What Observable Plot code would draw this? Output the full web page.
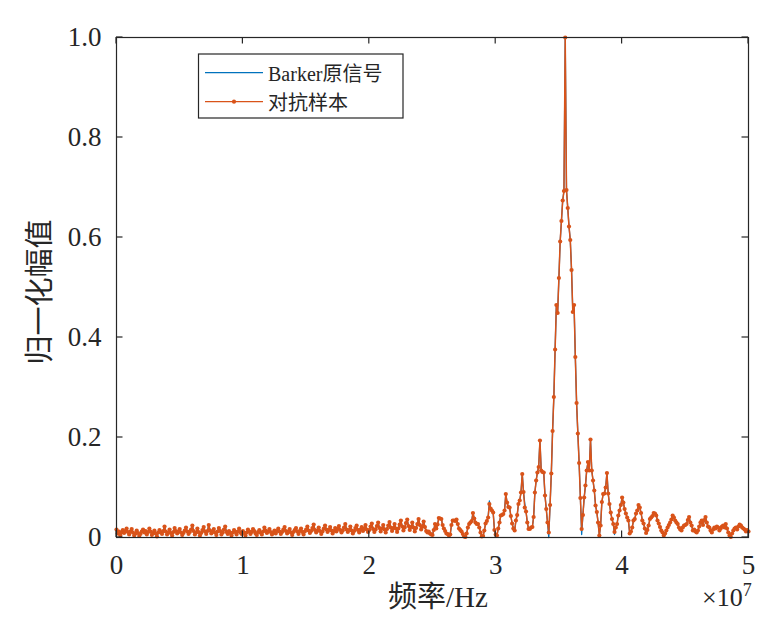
<!DOCTYPE html>
<html><head><meta charset="utf-8">
<script src="https://cdn.jsdelivr.net/npm/d3@7"></script>
<script src="https://cdn.jsdelivr.net/npm/@observablehq/plot@0.6"></script>
<style>body{margin:0;background:#fff} svg{display:block}</style>
</head><body><div id="chart"></div>
<script>
// ---- data, frequency grid step 1e5 Hz, 501 samples ----
const noise0 = [0.016,0.008,0.012,0.004,0.010,0.015,0.009,0.013,0.018,0.011,
0.006,0.012,0.017,0.010,0.004,0.008,0.014,0.009,0.003,0.007,
0.012,0.016,0.010,0.013,0.006,0.011,0.018,0.012,0.005,0.009,
0.014,0.008,0.002,0.010,0.015,0.011,0.007,0.013,0.022,0.012,
0.006,0.010,0.016,0.009,0.004,0.011,0.019,0.013,0.008,0.012];
const noise1 = [0.017,0.010,0.005,0.009,0.014,0.020,0.012,0.007,0.011,0.016,
0.024,0.013,0.006,0.010,0.018,0.011,0.004,0.009,0.015,0.021,
0.012,0.007,0.013,0.025,0.014,0.008,0.011,0.017,0.010,0.005,
0.012,0.019,0.013,0.006,0.010,0.016,0.022,0.011,0.007,0.013,
0.009,0.004,0.010,0.015,0.011,0.006,0.012,0.018,0.010,0.007];
const noise2 = [0.013,0.009,0.004,0.010,0.016,0.012,0.007,0.011,0.017,0.013,
0.008,0.005,0.011,0.015,0.010,0.006,0.012,0.020,0.014,0.009,
0.012,0.017,0.011,0.006,0.010,0.014,0.008,0.013,0.018,0.012,
0.007,0.011,0.016,0.021,0.013,0.008,0.012,0.017,0.010,0.005,
0.011,0.015,0.019,0.012,0.007,0.013,0.018,0.011,0.006,0.012];
const noise3 = [0.016,0.022,0.014,0.009,0.013,0.019,0.026,0.015,0.010,0.014,
0.020,0.013,0.007,0.012,0.018,0.024,0.016,0.011,0.015,0.021,
0.014,0.008,0.013,0.019,0.012,0.017,0.023,0.015,0.010,0.014,
0.020,0.027,0.016,0.011,0.015,0.022,0.014,0.008,0.013,0.019,
0.024,0.015,0.010,0.016,0.021,0.013,0.018,0.025,0.016,0.011];
const noise4 = [0.015,0.022,0.028,0.017,0.011,0.016,0.023,0.030,0.019,0.012,
0.018,0.025,0.016,0.010,0.017,0.024,0.031,0.020,0.013,0.019,
0.027,0.018,0.011,0.018,0.026,0.034,0.022,0.014,0.020,0.029,
0.036,0.023,0.015,0.021,0.030,0.020,0.012,0.019,0.027,0.037,
0.025,0.016,0.022,0.032,0.021,0.013,0.010,0.012];
const sideLeft = [0.008,0.006,0.005,0.015,0.027,0.018,0.026,0.039,0.038,0.037,0.025,0.018,0.013,0.008,
0.007,0.004,0.006,0.025,0.034,0.034,0.033,0.036,0.027,0.018,0.015,0.012,
0.007,0.002,0.001,0.008,0.020,0.027,0.030,0.033,0.049,0.038,0.030,0.027,0.027,0.020,
0.010,0.002,0.003,0.014,0.028,0.033,0.040,0.067,0.058,0.054,0.050,0.015,
0.006,0.004,0.018,0.030,0.044,0.045,0.047,0.054,0.087,0.070,0.061,0.060,0.043,0.028,0.018,0.014,
0.034,0.045,0.067,0.074,0.090,0.127,0.091,0.060,0.052,0.030,0.017,0.017,
0.020,0.021,0.041,0.090,0.114,0.130,0.141,0.194,0.134,0.131,0.130,0.084,0.057,0.030];
const mainLobe = [0.010,0.065,0.128,0.213,0.281,0.376,0.465,0.449,0.519,0.592,0.633,0.674,0.693,
1.000,
0.695,0.659,0.622,0.595,0.535,0.451,0.465,0.361,0.269,0.208,0.149,0.079,0.017];
const sideRight = [0.045,0.080,0.104,0.134,0.151,0.134,0.196,0.134,0.114,0.094,0.064,0.051,0.030,0.004,
0.024,0.071,0.087,0.088,0.100,0.129,0.088,0.067,0.050,0.037,0.027,0.011,
0.020,0.027,0.044,0.054,0.065,0.080,0.070,0.057,0.048,0.040,0.034,0.008,
0.012,0.020,0.034,0.037,0.048,0.054,0.065,0.060,0.049,0.034,0.028,0.018,0.009,
0.015,0.024,0.037,0.040,0.043,0.049,0.048,0.044,0.034,0.028,0.021,0.014,0.010,0.004,
0.008,0.014,0.020,0.025,0.030,0.036,0.044,0.040,0.034,0.030,0.027,0.020,0.016,0.014,
0.020,0.024,0.025,0.027,0.035,0.041,0.030,0.024,0.014,0.016,0.012,0.010];
const tailRight = [0.014,0.022,0.030,0.034,0.025,0.035,0.041,0.030,0.022,0.020,
0.014,0.010,0.016,0.020,0.018,0.022,0.020,0.014,0.018,0.022,
0.024,0.020,0.027,0.018,0.010,0.004,0.001,0.008,0.014,0.018,
0.020,0.016,0.022,0.026,0.024,0.020,0.018,0.016,0.012,0.015,
0.012];
// points where the original Barker spectrum peeks out under the adversarial one
const barkerDiff = [[295,0.073],[323,0.068],[342,0.0],[368,0.006],[394,0.006]];
const freqStep = 1e5;
const xTicks = [0, 1e7, 2e7, 3e7, 4e7, 5e7];
const xTickLabels = ["0","1","2","3","4","5"];
const yTicks = [0, 0.2, 0.4, 0.6, 0.8, 1.0];
const yTickLabels = ["0","0.2","0.4","0.6","0.8","1.0"];
const seriesNames = ["Barker原信号", "对抗样本"];
const colors = ["#0072BD", "#D95319"];

const adversarial = [].concat(noise0, noise1, noise2, noise3, noise4, sideLeft, mainLobe, sideRight, tailRight);
const barker = adversarial.slice();
barkerDiff.forEach(([i, v]) => { barker[i] = v; });
const advData = adversarial.map((v, i) => ({f: i * freqStep, a: v}));
const barkerData = barker.map((v, i) => ({f: i * freqStep, a: v}));

const serif = '"Liberation Serif","Times New Roman","Noto Sans CJK SC",serif';
const ink = "#262626";

const chart = Plot.plot({
  width: 783, height: 634,
  marginLeft: 116, marginRight: 35, marginTop: 37, marginBottom: 97,
  x: {domain: [0, 5e7]},
  y: {domain: [0, 1]},
  style: {fontFamily: serif, background: "#fff", color: ink, overflow: "visible"},
  marks: [
    Plot.line(barkerData, {x: "f", y: "a", stroke: colors[0], strokeWidth: 1.3}),
    Plot.line(advData, {x: "f", y: "a", stroke: colors[1], strokeWidth: 1.5}),
    Plot.dot(advData, {x: "f", y: "a", r: 2.1, fill: colors[1], stroke: "none"}),
    Plot.frame({stroke: ink, strokeWidth: 1.2}),
    Plot.axisX(xTicks, {anchor: "bottom", tickSize: 0, tickPadding: 17, label: null,
      tickFormat: d => xTickLabels[xTicks.indexOf(d)], fontSize: 27, fill: ink}),
    Plot.axisY(yTicks, {anchor: "left", tickSize: 0, tickPadding: 15, label: null,
      tickFormat: d => yTickLabels[yTicks.indexOf(d)], fontSize: 27, fill: ink})
  ]
});
document.getElementById("chart").appendChild(chart);

const sx = chart.scale("x"), sy = chart.scale("y");
const svg = d3.select(chart);
const x0 = sx.apply(0), x1 = sx.apply(5e7), yB = sy.apply(0), yT = sy.apply(1);
const tl = 6.5;
const tg = svg.append("g").attr("stroke", ink).attr("stroke-width", 1.2);
xTicks.forEach(t => {
  const px = sx.apply(t);
  tg.append("line").attr("x1", px).attr("x2", px).attr("y1", yB).attr("y2", yB - tl);
  tg.append("line").attr("x1", px).attr("x2", px).attr("y1", yT).attr("y2", yT + tl);
});
yTicks.forEach(t => {
  const py = sy.apply(t);
  tg.append("line").attr("x1", x0).attr("x2", x0 + tl).attr("y1", py).attr("y2", py);
  tg.append("line").attr("x1", x1).attr("x2", x1 - tl).attr("y1", py).attr("y2", py);
});

// axis titles
svg.append("text").attr("x", (x0 + x1) / 2 + 6).attr("y", 607)
  .attr("text-anchor", "middle").attr("font-size", 29).attr("fill", ink)
  .attr("font-family", serif).text("频率/Hz");
svg.append("text").attr("transform", `translate(50,${(yT + yB) / 2 + 5}) rotate(-90)`)
  .attr("text-anchor", "middle").attr("font-size", 29).attr("fill", ink)
  .attr("font-family", serif).text("归一化幅值");
const ex = svg.append("text").attr("x", 702).attr("y", 606).attr("font-size", 26)
  .attr("text-anchor", "start").attr("fill", ink).attr("font-family", serif);
ex.append("tspan").text("×10");
ex.append("tspan").attr("font-size", 18).attr("dy", -10).text("7");

// legend
const lg = svg.append("g").attr("font-family", serif).attr("font-size", 20).attr("text-anchor", "start");
lg.append("rect").attr("x", 198.5).attr("y", 54).attr("width", 204.5).attr("height", 64)
  .attr("fill", "#fff").attr("stroke", ink).attr("stroke-width", 1.2);
const rows = [72.7, 101.7];
seriesNames.forEach((name, i) => {
  lg.append("line").attr("x1", 205).attr("x2", 263).attr("y1", rows[i]).attr("y2", rows[i])
    .attr("stroke", colors[i]).attr("stroke-width", 1.3);
  if (i === 1) lg.append("circle").attr("cx", 234).attr("cy", rows[i]).attr("r", 2.1).attr("fill", colors[i]);
  lg.append("text").attr("x", 268).attr("y", rows[i] + 8).attr("text-anchor", "start").attr("fill", ink).text(name);
});
</script>
</body></html>
